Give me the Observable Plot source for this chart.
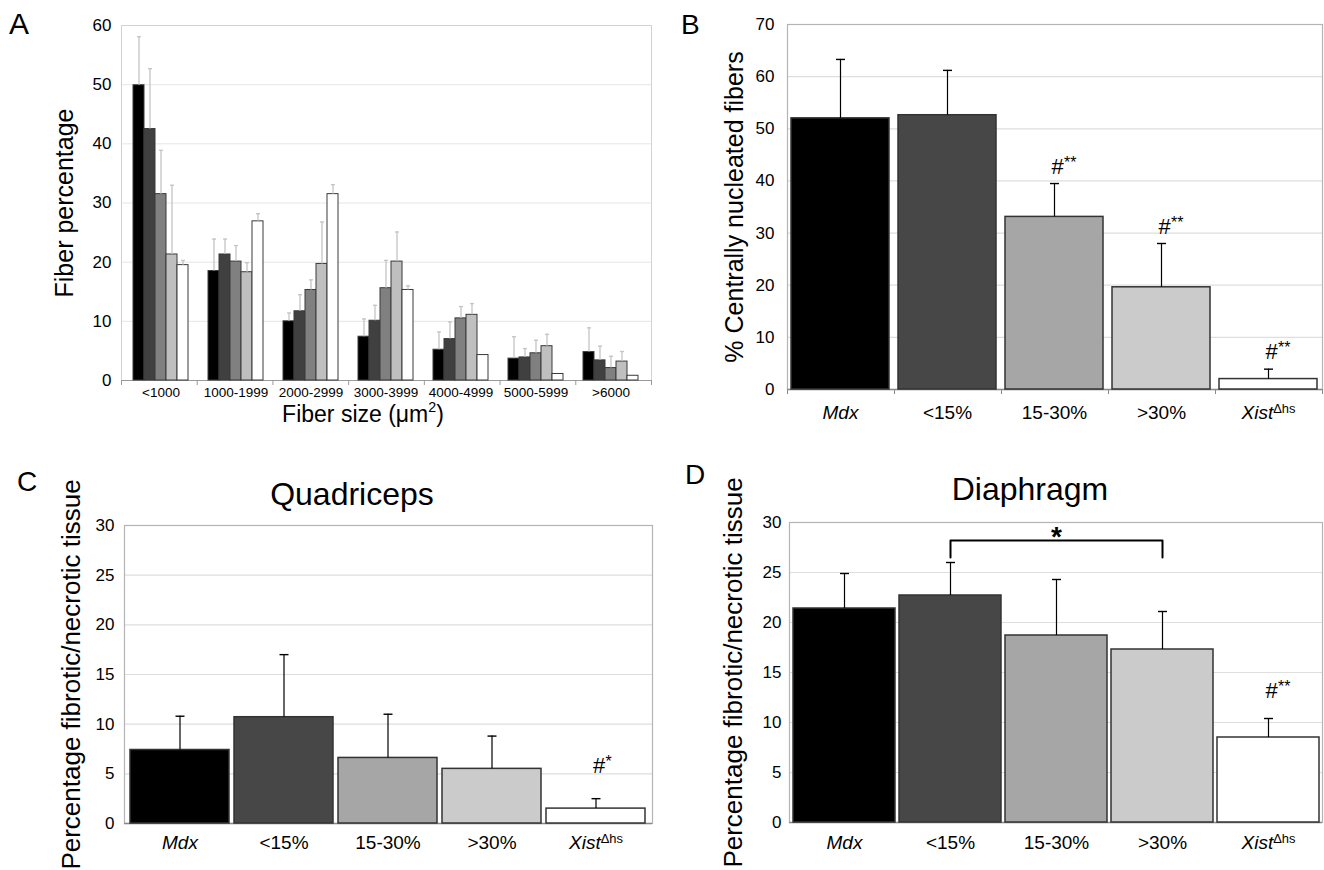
<!DOCTYPE html>
<html><head><meta charset="utf-8">
<script src="https://cdn.jsdelivr.net/npm/d3@7"></script>
<script src="https://cdn.jsdelivr.net/npm/@observablehq/plot@0.6"></script>
<style>
html,body{margin:0;padding:0;background:#fff;}
#fig{position:relative;width:1324px;height:870px;overflow:hidden;font-family:"Liberation Sans",Arial,Helvetica,sans-serif;color:#000;}
#fig .layer{position:absolute;}
#fig .layer svg{display:block;}
.note{position:absolute;line-height:1;white-space:nowrap;}
.note sup{font-size:0.62em;line-height:0;vertical-align:0.7em;}
.pa-bg g[aria-label="y-axis label"], .pa-bg g[aria-label="y-axis label"] text{font-size:25px;}
.pb-bg g[aria-label="y-axis label"], .pb-bg g[aria-label="y-axis label"] text{font-size:25px;}
.pc-bg g[aria-label="y-axis label"], .pc-bg g[aria-label="y-axis label"] text{font-size:26px;}
.pd-bg g[aria-label="y-axis label"], .pd-bg g[aria-label="y-axis label"] text{font-size:26px;}
</style></head>
<body><div id="fig"></div>
<script>
// ---------- DATA ----------
const seriesNames = ["Mdx", "<15%", "15-30%", ">30%", "XistΔhs"];

// Panel A: fiber size distribution
const fiberGroups = ["<1000", "1000-1999", "2000-2999", "3000-3999", "4000-4999", "5000-5999", ">6000"];
const fiberMdx     = [49.9, 18.5, 10.0, 7.4, 5.2, 3.7, 4.8];
const fiberMdxErr  = [8.2, 5.4, 1.4, 3.0, 3.0, 3.7, 4.1];
const fiberLt15    = [42.5, 21.3, 11.7, 10.1, 7.0, 3.9, 3.4];
const fiberLt15Err = [10.2, 2.6, 2.8, 2.6, 2.9, 1.5, 2.4];
const fiber1530    = [31.5, 20.1, 15.3, 15.6, 10.5, 4.6, 2.1];
const fiber1530Err = [7.4, 2.7, 1.7, 4.7, 2.0, 2.2, 2.0];
const fiberGt30    = [21.3, 18.3, 19.7, 20.1, 11.1, 5.8, 3.2];
const fiberGt30Err = [11.7, 1.6, 7.1, 5.0, 1.9, 2.0, 1.7];
const fiberXist    = [19.5, 26.9, 31.5, 15.3, 4.3, 1.1, 0.8];
const fiberXistErr = [0.8, 1.3, 1.6, 0.7, 0, 0, 0];
const fiberTicks   = [0, 10, 20, 30, 40, 50, 60];
const fiberColors  = ["#000000", "#404040", "#808080", "#bfbfbf", "#ffffff"];

// Panel B: centrally nucleated fibers
const nucleatedPct = [52.0, 52.6, 33.1, 19.6, 2.0];
const nucleatedErr = [11.3, 8.6, 6.4, 8.4, 1.9];
const nucleatedSig = ["", "", "#**", "#**", "#**"];
const nucleatedTicks = [0, 10, 20, 30, 40, 50, 60, 70];

// Panel C: quadriceps fibrotic/necrotic tissue
const quadPct = [7.4, 10.7, 6.6, 5.5, 1.5];
const quadErr = [3.4, 6.3, 4.4, 3.3, 1.0];
const quadSig = ["", "", "", "", "#*"];

// Panel D: diaphragm fibrotic/necrotic tissue
const diaPct = [21.4, 22.7, 18.7, 17.3, 8.5];
const diaErr = [3.5, 3.3, 5.6, 3.8, 1.9];
const diaSig = ["", "", "", "", "#**"];
const fibroticTicks = [0, 5, 10, 15, 20, 25, 30];

// Diaphragm comparison bracket (<15% vs >30%)
const bracketEnds = ["<15%", ">30%"];
const bracketLevels = [26.5, 28.2];
const bracketLabel = "*";
const bracketLabelAt = "15-30%";

const barColors = ["#000000", "#474747", "#a6a6a6", "#cbcbcb", "#ffffff"];

// ---------- HELPERS ----------
const FONT = '"Liberation Sans", Arial, Helvetica, sans-serif';
const fig = document.getElementById("fig");
function place(svg, left, top) {
  const d = document.createElement("div");
  d.className = "layer";
  d.style.left = left + "px"; d.style.top = top + "px";
  d.appendChild(svg); fig.appendChild(d);
}
function note(html, left, top, size, opts = {}) {
  const d = document.createElement("div");
  d.className = "note";
  d.innerHTML = html;
  d.style.left = left + "px"; d.style.top = top + "px"; d.style.fontSize = size + "px";
  if (opts.center) d.style.transform = "translateX(-50%)";
  if (opts.weight) d.style.fontWeight = opts.weight;
  fig.appendChild(d);
}
const capSymbol = {draw(ctx, size) { const r = Math.sqrt(size / Math.PI); ctx.moveTo(-r, 0); ctx.lineTo(r, 0); }};
function styleCats(svg) {
  const ns = "http://www.w3.org/2000/svg";
  svg.querySelectorAll('g[aria-label="x-axis tick label"] text').forEach(t => {
    const s = t.textContent;
    if (s === "Mdx") t.setAttribute("font-style", "italic");
    else if (s.startsWith("Xist")) {
      t.textContent = "";
      const a = document.createElementNS(ns, "tspan"); a.setAttribute("font-style", "italic"); a.textContent = "Xist";
      const b = document.createElementNS(ns, "tspan"); b.setAttribute("font-size", "0.68em"); b.setAttribute("dy", "-0.5em"); b.textContent = s.slice(4);
      t.append(a, b);
    }
  });
}

// ---------- PANEL A ----------
(function () {
  const vals = [fiberMdx, fiberLt15, fiber1530, fiberGt30, fiberXist];
  const errs = [fiberMdxErr, fiberLt15Err, fiber1530Err, fiberGt30Err, fiberXistErr];
  const rows = [];
  seriesNames.forEach((s, i) => fiberGroups.forEach((g, j) =>
    rows.push({group: g, series: s, value: vals[i][j], top: vals[i][j] + errs[i][j], err: errs[i][j]})));
  const errRows = rows.filter(d => d.err > 0);
  const dims = {width: 662, height: 430, marginLeft: 121, marginRight: 11, marginTop: 25, marginBottom: 50};
  const bg = Plot.plot({
    ...dims, className: "pa-bg",
    style: {background: "transparent", fontFamily: FONT, fontSize: "17px", color: "#000"},
    x: {domain: [0, fiberGroups.length]},
    y: {domain: [0, 60]},
    marks: [
      Plot.gridY(fiberTicks, {stroke: "#e6e6e6", strokeOpacity: 1}),
      Plot.frame({stroke: "#d2d2d2"}),
      Plot.ruleY([0], {stroke: "#9a9a9a"}),
      Plot.axisX(d3.range(fiberGroups.length + 1), {tickSize: 5, tickFormat: () => "", stroke: "#9a9a9a", label: null}),
      Plot.axisY(fiberTicks, {tickSize: 0, tickPadding: 10, label: "Fiber percentage", labelAnchor: "center", labelOffset: 66, labelArrow: "none"})
    ]
  });
  const fg = Plot.plot({
    ...dims, className: "pa-fg",
    style: {background: "transparent", fontFamily: FONT, fontSize: "13.5px", color: "#000"},
    fx: {domain: fiberGroups, paddingInner: 0.235, paddingOuter: 0.1175, axis: "bottom", tickSize: 0, tickPadding: 7, label: null},
    x: {domain: seriesNames, padding: 0, axis: null},
    y: {domain: [0, 60], axis: null},
    color: {domain: seriesNames, range: fiberColors},
    marks: [
      Plot.barY(rows, {fx: "group", x: "series", y: "value", fill: "series", stroke: "#3a3a3a", strokeWidth: 1}),
      Plot.ruleX(errRows, {fx: "group", x: "series", y1: "value", y2: "top", stroke: "#c4c4c4", strokeWidth: 1.3}),
      Plot.dot(errRows, {fx: "group", x: "series", y: "top", symbol: capSymbol, r: 2, fill: "none", stroke: "#c4c4c4", strokeWidth: 1.3})
    ]
  });
  place(bg, 0, 0); place(fg, 0, 0);
})();

// ---------- BAR PANELS B, C, D ----------
function barPanel(cfg) {
  const rows = seriesNames.map((c, i) => {
    const s = cfg.sig[i];
    return {cat: c, value: cfg.values[i], top: cfg.values[i] + cfg.errors[i], hash: s.replace(/\*/g, ""), stars: s.replace(/#/g, "")};
  });
  const sigRows = rows.filter(d => d.hash || d.stars);
  const dims = {width: cfg.width, height: cfg.height, marginLeft: cfg.ml, marginRight: cfg.mr, marginTop: cfg.mt, marginBottom: cfg.mb};
  const bgMarks = [
    Plot.gridY(cfg.ticks, {stroke: "#dedede", strokeOpacity: 1, strokeWidth: 1.2}),
    Plot.frame({stroke: "#b4b4b4", strokeWidth: 1.2}),
    Plot.ruleY([0], {stroke: "#8a8a8a", strokeWidth: 1.3}),
    Plot.axisY(cfg.ticks, {tickSize: 0, tickPadding: cfg.tickPadY, label: cfg.ylabel, labelAnchor: "center", labelOffset: cfg.labelOffset, labelArrow: "none"})
  ];
  const bgOpts = {
    ...dims, className: cfg.cls + "-bg",
    style: {background: "transparent", fontFamily: FONT, fontSize: "17px", color: "#000"},
    y: {domain: [0, cfg.yMax]},
    marks: bgMarks
  };
  if (cfg.boundaryTicks) {
    bgOpts.x = {domain: [0, seriesNames.length]};
    bgMarks.push(Plot.axisX(d3.range(seriesNames.length + 1), {tickSize: 5, tickFormat: () => "", stroke: "#8a8a8a", label: null}));
  }
  const bg = Plot.plot(bgOpts);
  const fgMarks = [
    Plot.barY(rows, {x: "cat", y: "value", fill: "cat", stroke: "#333", strokeWidth: 1.5}),
    Plot.ruleX(rows, {x: "cat", y1: "value", y2: "top", stroke: "#000", strokeWidth: 1.2}),
    Plot.dot(rows, {x: "cat", y: "top", symbol: capSymbol, r: 4.5, fill: "none", stroke: "#000", strokeWidth: 1.4}),
    Plot.text(sigRows, {x: "cat", y: "top", text: "hash", textAnchor: "start", lineAnchor: "bottom", dx: -3, dy: cfg.sigDy, fontSize: 22}),
    Plot.text(sigRows, {x: "cat", y: "top", text: "stars", textAnchor: "start", lineAnchor: "bottom", dx: 9.5, dy: cfg.sigDy - 6, fontSize: 16}),
    Plot.axisX({tickSize: 0, tickPadding: cfg.tickPadX, label: null})
  ];
  if (cfg.bracket) {
    const pts = [
      {x: bracketEnds[0], y: bracketLevels[0]}, {x: bracketEnds[0], y: bracketLevels[1]},
      {x: bracketEnds[1], y: bracketLevels[1]}, {x: bracketEnds[1], y: bracketLevels[0]}
    ];
    fgMarks.push(Plot.line(pts, {x: "x", y: "y", stroke: "#000", strokeWidth: 2, strokeLinejoin: "round"}));
    fgMarks.push(Plot.text([{x: bracketLabelAt, y: bracketLevels[1], t: bracketLabel}], {x: "x", y: "y", text: "t", lineAnchor: "middle", dy: -3, fontSize: 28, fontWeight: "bold"}));
  }
  const fg = Plot.plot({
    ...dims, className: cfg.cls + "-fg",
    style: {background: "transparent", fontFamily: FONT, fontSize: "19px", color: "#000"},
    x: {domain: seriesNames, paddingInner: cfg.padIn, paddingOuter: cfg.padOut},
    y: {domain: [0, cfg.yMax], axis: null},
    color: {domain: seriesNames, range: barColors},
    marks: fgMarks
  });
  styleCats(fg);
  place(bg, cfg.left, cfg.top); place(fg, cfg.left, cfg.top);
}

barPanel({cls: "pb", left: 662, top: 0, width: 662, height: 430, ml: 125, mr: 2, mt: 24, mb: 41,
  values: nucleatedPct, errors: nucleatedErr, sig: nucleatedSig, ticks: nucleatedTicks, yMax: 70,
  ylabel: "% Centrally nucleated fibers", labelOffset: 62, tickPadY: 13, tickPadX: 16, sigDy: -10,
  padIn: 0.08, padOut: 0.04, boundaryTicks: true});

barPanel({cls: "pc", left: 0, top: 430, width: 662, height: 440, ml: 124, mr: 10, mt: 95, mb: 47,
  values: quadPct, errors: quadErr, sig: quadSig, ticks: fibroticTicks, yMax: 30,
  ylabel: "Percentage fibrotic/necrotic tissue", labelOffset: 63, tickPadY: 10, tickPadX: 12, sigDy: -26,
  padIn: 0.045, padOut: 0.045, boundaryTicks: false});

barPanel({cls: "pd", left: 662, top: 430, width: 662, height: 440, ml: 127, mr: 2, mt: 92, mb: 48,
  values: diaPct, errors: diaErr, sig: diaSig, ticks: fibroticTicks, yMax: 30,
  ylabel: "Percentage fibrotic/necrotic tissue", labelOffset: 66, tickPadY: 8, tickPadX: 13, sigDy: -21,
  padIn: 0.04, padOut: 0.02, boundaryTicks: false, bracket: true});

// ---------- TEXT OUTSIDE THE SVGs ----------
note("A", 9, 9, 30);
note("B", 681, 11, 28);
note("C", 17, 468, 28);
note("D", 685, 461, 28);
note("Fiber size (μm<sup>2</sup>)", 363, 403, 23, {center: true});
note("Quadriceps", 352, 478, 32, {center: true});
note("Diaphragm", 1030, 473, 32, {center: true});
</script>
</body></html>
